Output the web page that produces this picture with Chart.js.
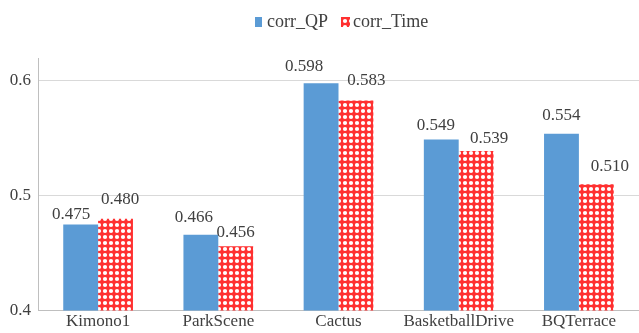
<!DOCTYPE html>
<html>
<head>
<meta charset="utf-8">
<script src="https://cdn.jsdelivr.net/npm/chart.js@4/dist/chart.umd.min.js"></script>
<style>
  html, body { margin: 0; padding: 0; background: #fff; }
  #wrap { width: 639px; height: 333px; }
</style>
</head>
<body>
<div id="wrap"><canvas id="c" width="639" height="333"></canvas></div>
<script>
// Sequences and their correlation values
const categories = ['Kimono1', 'ParkScene', 'Cactus', 'BasketballDrive', 'BQTerrace'];
const corrQP = [0.475, 0.466, 0.598, 0.549, 0.554];
const corrTime = [0.480, 0.456, 0.583, 0.539, 0.510];
const yTicks = [0.4, 0.5, 0.6];

// Hand-placed value labels: offset of each label centre from its bar's top centre (px)
const qpLabelDx = [-9.5, -7, -17, -5.5, 0];
const qpLabelDy = [-10, -17.6, -17.1, -13.9, -17.9];
const timeLabelDx = [4.5, 0, 10.5, 13, 13.5];
const timeLabelDy = [-19.3, -13.7, -19.9, -12.7, -17.4];

const FONT = "'Liberation Serif', 'Times New Roman', serif";
const TEXT = '#404040';
const BLUE = '#5b9bd5';

// Red lattice fill with white round holes
function makeLattice() {
  const s = 6;
  const t = document.createElement('canvas');
  t.width = s; t.height = s;
  const g = t.getContext('2d');
  g.fillStyle = '#ff3030';
  g.fillRect(0, 0, s, s);
  g.fillStyle = '#ffffff';
  g.beginPath();
  g.arc(s / 2, s / 2, 2.1, 0, Math.PI * 2);
  g.fill();
  return document.getElementById('c').getContext('2d').createPattern(t, 'repeat');
}
const lattice = makeLattice();

// Value labels above each bar
const valueLabels = {
  id: 'valueLabels',
  afterDatasetsDraw(chart) {
    const ctx = chart.ctx;
    const nudges = [[qpLabelDx, qpLabelDy], [timeLabelDx, timeLabelDy]];
    ctx.save();
    ctx.font = '17px ' + FONT;
    ctx.fillStyle = TEXT;
    ctx.textAlign = 'center';
    ctx.textBaseline = 'middle';
    chart.data.datasets.forEach((ds, i) => {
      const [dx, dy] = nudges[i];
      chart.getDatasetMeta(i).data.forEach((bar, j) => {
        ctx.fillText(ds.data[j].toFixed(3), bar.x + dx[j], bar.y + dy[j]);
      });
    });
    ctx.restore();
  }
};

// Legend row across the top, centred over the plot
const topLegend = {
  id: 'topLegend',
  afterDraw(chart) {
    const ctx = chart.ctx;
    ctx.save();
    ctx.font = '18px ' + FONT;
    ctx.textBaseline = 'alphabetic';
    let x = 255;
    const base = 27;
    chart.data.datasets.forEach((ds, i) => {
      ctx.fillStyle = ds.backgroundColor;
      ctx.fillRect(x, 17, i === 0 ? 7 : 9, 10);
      x += 12;
      ctx.fillStyle = TEXT;
      ctx.fillText(ds.label, x, base);
      x += ctx.measureText(ds.label).width + 13;
    });
    ctx.restore();
  }
};

new Chart(document.getElementById('c'), {
  type: 'bar',
  data: {
    labels: categories,
    datasets: [
      { label: 'corr_QP', data: corrQP, backgroundColor: BLUE, borderWidth: 0 },
      { label: 'corr_Time', data: corrTime, backgroundColor: lattice, borderWidth: 0 }
    ]
  },
  options: {
    responsive: false,
    animation: false,
    devicePixelRatio: 1,
    layout: { padding: { left: 0, right: -3, top: 58, bottom: 0 } },
    datasets: { bar: { categoryPercentage: 0.58, barPercentage: 1.0 } },
    plugins: {
      legend: { display: false },
      tooltip: { enabled: false }
    },
    scales: {
      x: {
        grid: { display: false, drawTicks: false },
        border: { color: '#bfbfbf', width: 1 },
        ticks: { font: { family: FONT, size: 17 }, color: TEXT, padding: 1, maxRotation: 0 }
      },
      y: {
        min: 0.4,
        max: 0.62,
        afterBuildTicks(scale) { scale.ticks = yTicks.map(v => ({ value: v })); },
        afterFit(scale) { scale.width = 38; },
        grid: { color: '#d9d9d9', drawTicks: false },
        border: { color: '#bfbfbf', width: 1 },
        ticks: { font: { family: FONT, size: 17 }, color: TEXT, padding: 7,
                 callback: v => String(v) }
      }
    }
  },
  plugins: [valueLabels, topLegend]
});
</script>
</body>
</html>
